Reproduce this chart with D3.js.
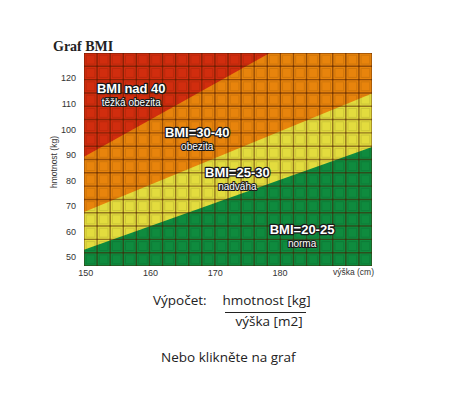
<!DOCTYPE html>
<html><head><meta charset="utf-8">
<script src="https://cdn.jsdelivr.net/npm/d3@7"></script>
<style>
html,body{margin:0;padding:0;background:#fff;}
svg{display:block;}
</style></head>
<body>
<script>
// ---- data ----
const xDomain = [149.8, 194.3];          // height (cm)
const yDomain = [46.5, 129.8];           // weight (kg)
const xTicks = [150, 160, 170, 180];
const yTicks = [50, 60, 70, 80, 90, 100, 110, 120];
// category boundary lines [height, weight]
const line25 = [[149.8, 52.9], [194.3, 93.0]];
const line30 = [[149.8, 67.6], [194.3, 114.0]];
const line40 = [[149.8, 89.2], [178.5, 129.8]];
const zoneNames = ["BMI=20-25", "BMI=25-30", "BMI=30-40", "BMI nad 40"];
const zoneSub = ["norma", "nadváha", "obezita", "těžká obezita"];
const zoneLabelPos = [[178.5, 59.0], [168.5, 81.3], [162.3, 97.0], [151.8, 114.2]]; // label anchors (cm, kg)
const zoneColors = ["#0f8b3e", "#e3dc3e", "#e8840c", "#d12d0e"];

const W = 474, H = 400;
const svg = d3.select("body").append("svg").attr("width", W).attr("height", H);
const plot = {l: 84, r: 372, t: 53, b: 266};
const x = d3.scaleLinear().domain(xDomain).range([plot.l, plot.r]);
const y = d3.scaleLinear().domain(yDomain).range([plot.b, plot.t]);

const g = svg.append("g");
const [x0, x1] = xDomain, [y0, y1] = yDomain;
svg.append("clipPath").attr("id", "pc").append("rect")
  .attr("x", plot.l).attr("y", plot.t).attr("width", plot.r - plot.l).attr("height", plot.b - plot.t);
const zg = g.append("g").attr("clip-path", "url(#pc)");
const poly = pts => "M" + pts.map(p => x(p[0]) + "," + y(p[1])).join("L") + "Z";
zg.append("path").attr("d", poly([[x0, y0], [x1, y0], [x1, y1], [x0, y1]])).attr("fill", zoneColors[0]);
zg.append("path").attr("d", poly([line25[0], line25[1], [x1, y1], [x0, y1]])).attr("fill", zoneColors[1]);
zg.append("path").attr("d", poly([line30[0], line30[1], [x1, y1], [x0, y1]])).attr("fill", zoneColors[2]);
zg.append("path").attr("d", poly([line40[0], line40[1], [x0, y1]])).attr("fill", zoneColors[3]);

// decorative tile grid
const cols = 22, rows = 16;
const cw = (plot.r - plot.l) / cols, ch = (plot.b - plot.t) / rows;
const cells = [];
for (let i = 0; i < cols; i++) for (let j = 0; j < rows; j++) cells.push([i, j]);
zg.selectAll("rect.in").data(cells).join("rect")
  .attr("x", d => plot.l + d[0] * cw + 2.2).attr("y", d => plot.b - (d[1] + 1) * ch + 2.2)
  .attr("width", cw - 4.4).attr("height", ch - 4.4)
  .attr("fill", "none").attr("stroke", "rgba(0,0,0,0.10)").attr("stroke-width", 1);
const gl = zg.append("g").attr("stroke", "rgba(70,25,0,0.52)").attr("stroke-width", 1.4);
for (let i = 0; i <= cols; i++) gl.append("line")
  .attr("x1", plot.l + i * cw).attr("x2", plot.l + i * cw).attr("y1", plot.t).attr("y2", plot.b);
for (let j = 0; j <= rows; j++) gl.append("line")
  .attr("y1", plot.b - j * ch).attr("y2", plot.b - j * ch).attr("x1", plot.l).attr("x2", plot.r);

// axes
const axX = d3.axisBottom(x).tickValues(xTicks).tickSize(0).tickPadding(0);
const ax = g.append("g").attr("transform", `translate(0,${plot.b})`).call(axX);
ax.select(".domain").remove();
ax.selectAll("text").attr("dy", null).attr("y", 9.5)
  .attr("font-family", "Liberation Sans, Arial, sans-serif").attr("font-size", 9).attr("fill", "#333");
const axY = d3.axisLeft(y).tickValues(yTicks).tickSize(0).tickPadding(0);
const ay = g.append("g").attr("transform", `translate(${plot.l - 8},0)`).call(axY);
ay.select(".domain").remove();
ay.selectAll("text").attr("font-family", "Liberation Sans, Arial, sans-serif").attr("font-size", 9).attr("fill", "#333");

svg.append("text").attr("x", 374).attr("y", 275).attr("text-anchor", "end")
  .attr("font-family", "Liberation Sans, Arial, sans-serif").attr("font-size", 8.5).attr("fill", "#333")
  .text("výška (cm)");
svg.append("text").attr("transform", "translate(57,162) rotate(-90)").attr("text-anchor", "middle")
  .attr("font-family", "Liberation Sans, Arial, sans-serif").attr("font-size", 8.5).attr("fill", "#333")
  .text("hmotnost (kg)");
svg.append("text").attr("x", 53).attr("y", 51)
  .attr("font-family", "Liberation Serif, Times New Roman, serif").attr("font-weight", "bold")
  .attr("font-size", 14).attr("fill", "#222").text("Graf BMI");

// zone labels
const lab = g.append("g").attr("font-family", "Liberation Sans, Arial, sans-serif")
  .attr("fill", "#fff").attr("stroke", "#1a1a1a").attr("paint-order", "stroke")
  .attr("stroke-linejoin", "round");
zoneNames.forEach((nm, i) => {
  const p = zoneLabelPos[i];
  const cx = x(p[0]), cy = y(p[1]);
  lab.append("text").attr("x", cx).attr("y", cy).attr("text-anchor", "start")
    .attr("font-weight", "bold").attr("font-size", 13).attr("stroke-width", 2.6).text(nm)
    .each(function () {
      const w = this.getComputedTextLength();
      lab.append("text").attr("x", cx + w / 2).attr("y", cy + 13).attr("text-anchor", "middle")
        .attr("font-size", 10).attr("stroke-width", 2.2).text(zoneSub[i]);
    });
});

// formula text
const ff = "Open Sans, Liberation Sans, sans-serif";
const fs = 13.5;
svg.append("text").attr("x", 153).attr("y", 305).attr("font-family", ff).attr("font-size", fs).attr("fill", "#222").text("Výpočet:");
svg.append("text").attr("x", 266.5).attr("y", 305).attr("text-anchor", "middle").attr("font-family", ff).attr("font-size", fs).attr("fill", "#222").text("hmotnost [kg]");
svg.append("line").attr("x1", 225).attr("x2", 306).attr("y1", 312.5).attr("y2", 312.5).attr("stroke", "#222").attr("stroke-width", 1);
svg.append("text").attr("x", 269).attr("y", 326).attr("text-anchor", "middle").attr("font-family", ff).attr("font-size", fs).attr("fill", "#222").text("výška [m2]");
svg.append("text").attr("x", 161).attr("y", 362).attr("font-family", ff).attr("font-size", fs).attr("fill", "#222").text("Nebo klikněte na graf");
</script>
</body></html>
